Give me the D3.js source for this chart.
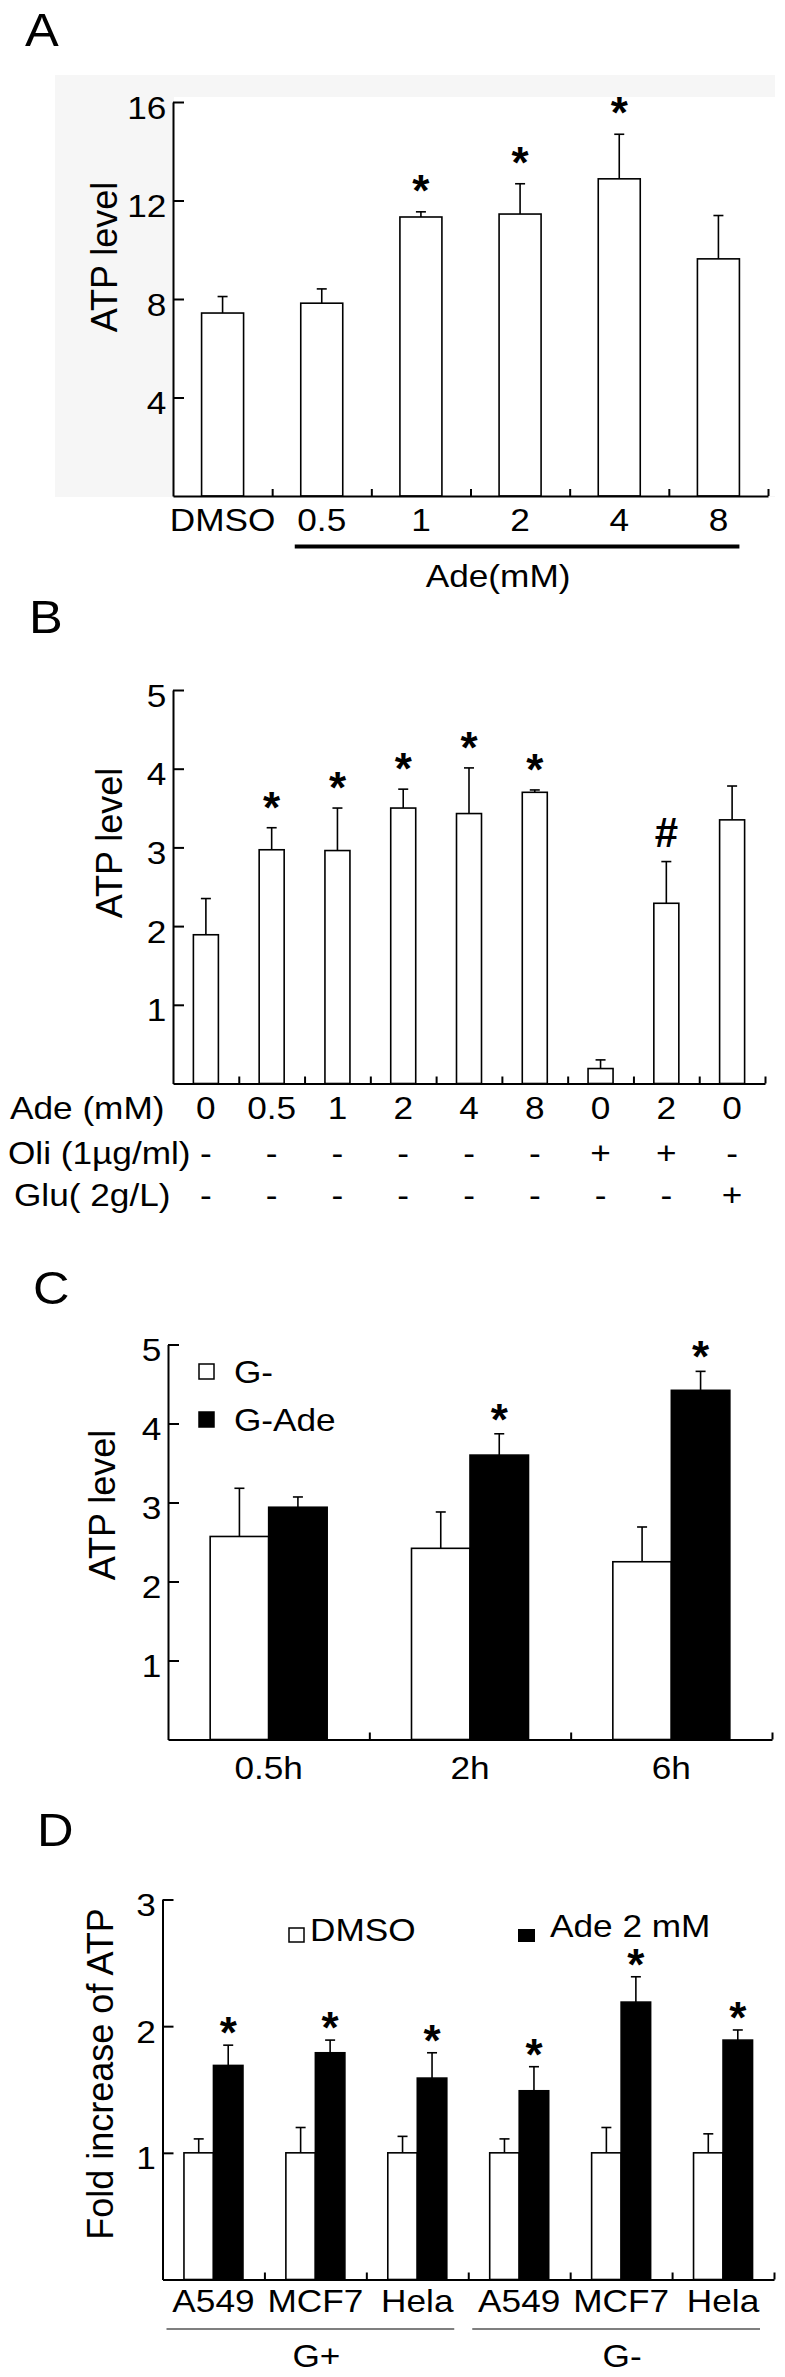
<!DOCTYPE html>
<html>
<head>
<meta charset="utf-8">
<script src="https://cdn.jsdelivr.net/npm/d3@7"></script>
<style>
  body { margin: 0; background: #fff; }
  svg { display: block; }
  text { font-family: 'Liberation Sans', Arial, Helvetica, sans-serif; fill: #000; }
</style>
</head>
<body>
<svg id="fig" width="785" height="2377"></svg>
<script>
(function (d3) {
  'use strict';

  // ---- panel A : ATP level vs adenine dose
  var catsA = ["DMSO", "0.5", "1", "2", "4", "8"];
  var atpA = [7.43, 7.83, 11.33, 11.45, 12.88, 9.63];
  var sdA = [0.67, 0.58, 0.21, 1.23, 1.81, 1.76];
  var sigA = ["", "", "*", "*", "*", ""];
  var ticksA = [4, 8, 12, 16];

  // ---- panel B : adenine / oligomycin / glucose
  var adeB = ["0", "0.5", "1", "2", "4", "8", "0", "2", "0"];
  var oliB = ["-", "-", "-", "-", "-", "-", "+", "+", "-"];
  var gluB = ["-", "-", "-", "-", "-", "-", "-", "-", "+"];
  var rowsB = ["Ade (mM)", "Oli (1\u00b5g/ml)", "Glu( 2g/L)"];
  var atpB = [1.89, 2.97, 2.96, 3.50, 3.43, 3.70, 0.19, 2.29, 3.35];
  var sdB = [0.46, 0.28, 0.54, 0.24, 0.58, 0.03, 0.11, 0.53, 0.43];
  var sigB = ["", "*", "*", "*", "*", "*", "", "#", ""];
  var ticksB = [1, 2, 3, 4, 5];

  // ---- panel C : time course
  var timesC = ["0.5h", "2h", "6h"];
  var seriesC = ["G-", "G-Ade"];
  var gMinusC = [2.57, 2.42, 2.25];
  var gMinusSdC = [0.61, 0.46, 0.44];
  var gAdeC = [2.94, 3.60, 4.42];
  var gAdeSdC = [0.13, 0.27, 0.24];
  var sigC = ["", "*", "*"];
  var ticksC = [1, 2, 3, 4, 5];

  // ---- panel D : fold increase per cell line
  var cellsD = ["A549", "MCF7", "Hela", "A549", "MCF7", "Hela"];
  var groupsD = ["G+", "G-"];
  var seriesD = ["DMSO", "Ade 2 mM"];
  var dmsoD = [1, 1, 1, 1, 1, 1];
  var dmsoSdD = [0.11, 0.20, 0.13, 0.11, 0.20, 0.15];
  var adeD = [1.69, 1.79, 1.59, 1.49, 2.19, 1.89];
  var adeSdD = [0.16, 0.10, 0.20, 0.19, 0.20, 0.08];
  var sigD = ["*", "*", "*", "*", "*", "*"];
  var ticksD = [1, 2, 3];

  var svg = d3.select("#fig");
  var FS = 32;      // label font size
  var SX = 1.1;     // the figure's lettering is a bit wider than Arial

  svg.append("rect").attr("width", 785).attr("height", 2377).attr("fill", "#fff");

  // horizontal text, widened a little
  function txt(g, x, y, s, anchor, fs) {
    return g.append("text")
        .attr("transform", "translate(" + x + "," + y + ") scale(" + SX + ",1)")
        .attr("text-anchor", anchor || "start")
        .attr("font-size", fs || FS)
        .text(s);
  }

  function yAxis(g, y, x0, ticks) {
    var ax = g.append("g")
        .attr("transform", "translate(" + x0 + ",0)")
        .call(d3.axisLeft(y).tickValues(ticks).tickFormat(d3.format("d"))
          .tickSize(-11).tickSizeOuter(0).tickPadding(6))
        .attr("font-size", null).attr("font-family", null);
    ax.select(".domain").attr("stroke-width", 2);
    ax.selectAll(".tick line").attr("stroke-width", 2);
    ax.selectAll("text").attr("font-size", FS).attr("dy", "0.5em")
        .attr("transform", "scale(" + SX + ",1)");
  }

  // baseline with inward ticks at the band boundaries
  function xFrame(g, n, x0, x1, yPos) {
    var xb = d3.scaleLinear().domain([0, n]).range([x0, x1]);
    var ax = g.append("g")
        .attr("transform", "translate(0," + yPos + ")")
        .call(d3.axisBottom(xb).tickValues(d3.range(1, n + 1)).tickSize(-7).tickSizeOuter(0).tickFormat(""));
    ax.select(".domain").attr("stroke-width", 2);
    ax.selectAll(".tick line").attr("stroke-width", 2);
  }

  function xLabels(g, x, yPos, pad, fmt) {
    var ax = g.append("g")
        .attr("transform", "translate(0," + yPos + ")")
        .call(d3.axisBottom(x).tickSize(0).tickPadding(pad).tickFormat(fmt || null))
        .attr("font-size", null).attr("font-family", null);
    ax.select(".domain").remove();
    ax.selectAll("text").attr("font-size", FS).attr("transform", "scale(" + SX + ",1)");
  }

  function yTitle(t, x, y, fs) {
    svg.append("text")
        .attr("transform", "translate(" + x + "," + y + ") rotate(-90)")
        .attr("text-anchor", "middle")
        .attr("font-size", fs)
        .text(t);
  }

  // bars with upper error whiskers; left(i) gives the bar's left edge
  function bars(g, vals, sds, left, w, y, fill) {
    var b = g.append("g");
    b.selectAll("line.err").data(vals).enter().append("line")
        .attr("x1", function (d, i) { return left(i) + w / 2; })
        .attr("x2", function (d, i) { return left(i) + w / 2; })
        .attr("y1", function (d) { return y(d); })
        .attr("y2", function (d, i) { return y(d + sds[i]); })
        .attr("stroke", "#000").attr("stroke-width", 1.6);
    b.selectAll("line.cap").data(vals).enter().append("line")
        .attr("x1", function (d, i) { return left(i) + w / 2 - 5; })
        .attr("x2", function (d, i) { return left(i) + w / 2 + 5; })
        .attr("y1", function (d, i) { return y(d + sds[i]); })
        .attr("y2", function (d, i) { return y(d + sds[i]); })
        .attr("stroke", "#000").attr("stroke-width", 1.6);
    b.selectAll("rect").data(vals).enter().append("rect")
        .attr("x", function (d, i) { return left(i); })
        .attr("y", function (d) { return y(d); })
        .attr("width", w)
        .attr("height", function (d) { return y(0) - y(d); })
        .attr("fill", fill)
        .attr("stroke", "#000").attr("stroke-width", 1.6);
  }

  // significance marks centred a fixed gap above the whisker
  function marks(g, sig, vals, sds, cx, y, gap) {
    var items = sig.map(function (m, i) { return { m: m, i: i }; })
        .filter(function (d) { return d.m; });
    g.append("g").selectAll("text").data(items).enter().append("text")
        .attr("text-anchor", "middle")
        .attr("font-weight", "bold")
        .attr("font-size", function (d) { return d.m === "#" ? 42 : 44; })
        .attr("x", function (d) { return cx(d.i); })
        .attr("y", function (d) {
          var c = y(vals[d.i] + sds[d.i]) - gap;
          return d.m === "#" ? c + 15 : c + 25;
        })
        .text(function (d) { return d.m; });
  }

  // ================= A =================
  txt(svg, 25, 46, "A", "start", 46);
  var gA = svg.append("g");
  gA.append("rect").attr("x", 55).attr("y", 75).attr("width", 720).attr("height", 422).attr("fill", "#f6f6f6");
  gA.append("rect").attr("x", 174).attr("y", 97).attr("width", 601).attr("height", 399).attr("fill", "#fff");

  var yA = d3.scaleLinear().domain([0, 16]).range([496, 102]);
  var xA = d3.scaleBand().domain(catsA).range([173, 768]);
  var wA = 42;
  var leftA = function (i) { return xA(catsA[i]) + (xA.bandwidth() - wA) / 2; };
  bars(gA, atpA, sdA, leftA, wA, yA, "#fff");
  marks(gA, sigA, atpA, sdA, function (i) { return leftA(i) + wA / 2; }, yA, 31);
  yAxis(gA, yA, 173, ticksA);
  xFrame(gA, catsA.length, 173, 768, 496);
  xLabels(gA, xA, 496, 12);
  yTitle("ATP level", 117, 257, 36);

  var adeX0 = leftA(1) - 6, adeX1 = leftA(5) + wA;
  gA.append("line").attr("x1", adeX0).attr("x2", adeX1).attr("y1", 546.5).attr("y2", 546.5)
      .attr("stroke", "#000").attr("stroke-width", 4);
  txt(gA, (adeX0 + adeX1) / 2 - 19, 587, "Ade(mM)", "middle");

  // ================= B =================
  txt(svg, 29, 633, "B", "start", 46);
  var gB = svg.append("g");
  var yB = d3.scaleLinear().domain([0, 5]).range([1083.5, 690]);
  var xB = d3.scaleBand().domain(d3.range(adeB.length)).range([173, 765]);
  var wB = 25;
  var leftB = function (i) { return xB(i) + (xB.bandwidth() - wB) / 2; };
  bars(gB, atpB, sdB, leftB, wB, yB, "#fff");
  marks(gB, sigB, atpB, sdB, function (i) { return leftB(i) + wB / 2; }, yB, 30);
  yAxis(gB, yB, 173, ticksB);
  xFrame(gB, adeB.length, 173, 765, 1083.5);
  yTitle("ATP level", 122, 843, 36);

  var rowY = [1119, 1164, 1206];
  var rowX = [10, 8, 14];
  [adeB, oliB, gluB].forEach(function (row, r) {
    txt(gB, rowX[r], rowY[r], rowsB[r]);
    row.forEach(function (d, i) {
      txt(gB, xB(i) + xB.bandwidth() / 2, rowY[r], d, "middle");
    });
  });

  // ================= C =================
  txt(svg, 33, 1304, "C", "start", 46);
  var gC = svg.append("g");
  var yC = d3.scaleLinear().domain([0, 5]).range([1739.5, 1344.5]);
  var xC = d3.scaleBand().domain(timesC).range([168, 772]);
  var wC = 58.5;
  var midC = function (i) { return xC(timesC[i]) + xC.bandwidth() / 2; };
  bars(gC, gMinusC, gMinusSdC, function (i) { return midC(i) - wC; }, wC, yC, "#fff");
  bars(gC, gAdeC, gAdeSdC, function (i) { return midC(i); }, wC, yC, "#000");
  marks(gC, sigC, gAdeC, gAdeSdC, function (i) { return midC(i) + wC / 2; }, yC, 24);
  yAxis(gC, yC, 168, ticksC);
  xFrame(gC, timesC.length, 168, 772, 1739.5);
  xLabels(gC, xC, 1739.5, 17);
  yTitle("ATP level", 115, 1505, 36);

  var legC = gC.append("g");
  seriesC.forEach(function (s, i) {
    legC.append("rect").attr("x", 199).attr("y", 1364 + i * 48).attr("width", 15).attr("height", 15)
        .attr("fill", i ? "#000" : "#fff").attr("stroke", "#000").attr("stroke-width", 1.5);
    txt(legC, 234, 1383 + i * 48, s);
  });

  // ================= D =================
  txt(svg, 37, 1846, "D", "start", 46);
  var gD = svg.append("g");
  var yD = d3.scaleLinear().domain([0, 3]).range([2279.5, 1899.5]);
  var xD = d3.scaleBand().domain(d3.range(cellsD.length)).range([162.5, 774]);
  var wD = 29.5;
  var midD = function (i) { return xD(i) + xD.bandwidth() / 2; };
  bars(gD, dmsoD, dmsoSdD, function (i) { return midD(i) - wD; }, wD, yD, "#fff");
  bars(gD, adeD, adeSdD, function (i) { return midD(i); }, wD, yD, "#000");
  marks(gD, sigD, adeD, adeSdD, function (i) { return midD(i) + wD / 2; }, yD, 22);
  yAxis(gD, yD, 162.5, ticksD);
  xFrame(gD, cellsD.length, 162.5, 774, 2279.5);
  xLabels(gD, xD, 2279.5, 10, function (i) { return cellsD[i]; });
  yTitle("Fold increase of ATP", 112.5, 2074, 36);

  // group brackets under the cell lines
  var per = cellsD.length / groupsD.length;
  groupsD.forEach(function (gname, k) {
    var x0 = xD(k * per) + 4;
    var x1 = xD(k * per + per - 1) + xD.bandwidth() - 14;
    gD.append("line").attr("x1", x0).attr("x2", x1).attr("y1", 2329).attr("y2", 2329)
        .attr("stroke", "#000").attr("stroke-width", 1.2);
    txt(gD, (x0 + x1) / 2 + 6, 2367, gname, "middle");
  });

  var legD = gD.append("g");
  legD.append("rect").attr("x", 289).attr("y", 1928).attr("width", 15).attr("height", 14)
      .attr("fill", "#fff").attr("stroke", "#000").attr("stroke-width", 1.5);
  txt(legD, 310, 1941, seriesD[0]);
  legD.append("rect").attr("x", 518).attr("y", 1929).attr("width", 17).attr("height", 13)
      .attr("fill", "#000");
  txt(legD, 550, 1937, seriesD[1]);

}(d3));
</script>
</body>
</html>
